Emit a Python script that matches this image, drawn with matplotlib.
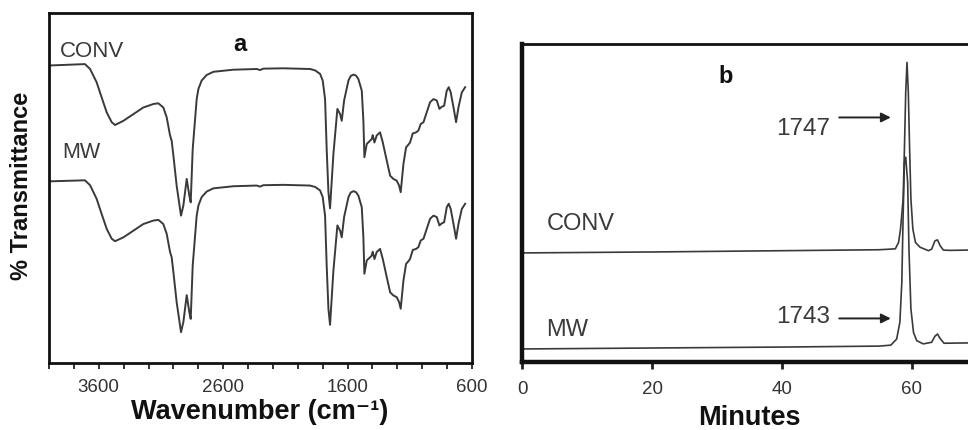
import matplotlib
matplotlib.use("Agg")
import matplotlib.pyplot as plt
from matplotlib.ticker import FixedLocator

plt.rcParams['font.family'] = ['Liberation Sans', 'DejaVu Sans']

# ---------------- Panel a: FTIR spectra ----------------
wavenumber = [3998, 3711, 3670, 3617, 3577, 3536, 3496, 3469, 3402, 3322, 3242, 3161,
              3121, 3081, 3054, 3027, 3014, 3000, 2974, 2939, 2920, 2893, 2872, 2861,
              2845, 2813, 2799, 2773, 2732, 2679, 2518, 2330, 2304, 2277, 2116, 1902,
              1861, 1821, 1800, 1781, 1768, 1754, 1741, 1714, 1682, 1660, 1647, 1628,
              1593, 1575, 1553, 1532, 1513, 1486, 1473, 1465, 1446, 1425, 1406, 1398,
              1384, 1366, 1339, 1317, 1285, 1258, 1232, 1205, 1186, 1173, 1151, 1130,
              1111, 1098, 1076, 1049, 1031, 1012, 990, 964, 937, 910, 883, 862,
              843, 824, 803, 787, 771, 744, 728, 709, 682, 655]
T_conv = [85.0, 85.4, 84.0, 80.2, 75.9, 71.6, 68.8, 68.0, 69.2, 71.1, 73.0, 74.0,
          74.2, 73.0, 70.2, 65.0, 63.5, 59.2, 50.7, 42.1, 45.0, 52.6, 47.8, 45.9,
          61.1, 75.4, 78.3, 80.7, 82.3, 83.2, 83.8, 84.0, 83.7, 84.1, 84.2, 84.0,
          83.6, 82.6, 80.7, 75.4, 61.1, 48.8, 44.2, 59.7, 72.6, 71.1, 69.2, 75.0,
          80.7, 82.0, 82.4, 82.1, 81.1, 77.8, 69.2, 58.8, 62.6, 63.3, 64.0, 65.1,
          63.0, 65.0, 65.9, 63.0, 57.8, 53.5, 52.6, 52.1, 50.7, 48.8, 56.9, 61.6,
          62.4, 63.0, 65.6, 65.9, 66.4, 68.3, 68.8, 71.6, 74.5, 75.4, 75.0, 72.6,
          73.2, 73.5, 77.8, 78.8, 77.3, 72.1, 68.8, 73.0, 77.3, 78.8]
T_mw = [51.9, 52.2, 50.8, 46.9, 42.6, 38.3, 35.5, 34.8, 35.9, 37.8, 39.7, 40.7,
        40.9, 39.7, 36.9, 31.7, 30.2, 25.9, 17.4, 8.8, 11.7, 19.4, 14.5, 12.6,
        27.8, 42.1, 45.0, 47.4, 49.0, 49.9, 50.5, 50.7, 50.4, 50.8, 50.9, 50.7,
        50.3, 49.3, 47.4, 42.1, 27.8, 15.5, 10.9, 26.4, 39.3, 37.8, 35.9, 41.7,
        47.4, 48.7, 49.1, 48.8, 47.8, 44.5, 35.9, 25.5, 29.3, 30.0, 30.7, 31.8,
        29.7, 31.7, 32.6, 29.7, 24.5, 20.2, 19.3, 18.8, 17.4, 15.5, 23.6, 28.3,
        29.1, 29.7, 32.3, 32.6, 33.1, 35.0, 35.5, 38.3, 41.2, 42.1, 41.7, 39.3,
        39.9, 40.2, 44.5, 45.5, 44.0, 38.8, 35.5, 39.7, 44.0, 45.5]
ir_major_ticks = [3600, 2600, 1600, 600]
ir_minor_ticks = list(range(4000, 599, -200))

# ---------------- Panel b: chromatograms ----------------
t_conv = [0.0, 20.0, 40.0, 55.0, 56.8, 57.5, 58.0, 58.3, 58.7, 58.9, 59.1, 59.3,
          59.5, 59.7, 59.9, 60.2, 60.6, 61.3, 62.6, 63.1, 63.6, 64.0, 64.4, 64.9,
          65.9, 68.7]
s_conv = [34.3, 34.6, 35.0, 35.3, 35.5, 35.6, 37.6, 41.8, 51.3, 67.0, 84.8, 94.2,
          84.8, 67.0, 51.3, 41.8, 37.6, 36.1, 35.0, 35.5, 38.1, 38.4, 36.6, 35.2,
          35.1, 35.2]
t_mw = [0.0, 20.0, 40.0, 55.0, 56.8, 57.7, 58.2, 58.5, 58.7, 58.9, 59.1, 59.4,
        59.6, 59.9, 60.3, 60.8, 61.8, 63.1, 63.6, 64.0, 64.4, 65.0, 68.7]
s_mw = [4.1, 4.4, 4.7, 5.0, 5.3, 7.2, 12.5, 25.1, 46.0, 62.8, 64.4, 56.5,
        35.5, 16.7, 9.3, 6.7, 5.7, 6.2, 8.1, 8.8, 7.4, 5.9, 6.0]
gc_ticks = [0, 20, 40, 60]

W, H = 968, 431
fig = plt.figure(figsize=(W / 100, H / 100), dpi=100)

line_col = '#3a3a3a'
txt_col = '#3a3a3a'

# Panel a
axa = fig.add_axes([49 / W, 1 - 364 / H, (472 - 49) / W, (364 - 14) / H])
axa.plot(wavenumber, T_conv, color=line_col, lw=1.4)
axa.plot(wavenumber, T_mw, color=line_col, lw=1.4)
axa.set_xlim(4000, 600)
axa.set_ylim(0, 100)
axa.xaxis.set_major_locator(FixedLocator(ir_major_ticks))
axa.xaxis.set_minor_locator(FixedLocator(ir_minor_ticks))
axa.set_yticks([])
axa.tick_params(axis='x', which='both', direction='out', length=4.5, width=1.3,
                color='#222', labelsize=13.5, labelcolor='#333', pad=6)
for s in axa.spines.values():
    s.set_linewidth(2.0)
    s.set_color('#111')
axa.text(3912, 87.7, 'CONV', fontsize=16, color=txt_col, ha='left', va='baseline')
axa.text(3895, 58.9, 'MW', fontsize=15.5, color=txt_col, ha='left', va='baseline')
axa.text(2464, 89.5, 'a', fontsize=17, fontweight='bold', color='#111',
         ha='center', va='baseline')

fig.text(260 / W, 1 - 419 / H, 'Wavenumber (cm\u207b\u00b9)', fontsize=19.5,
         fontweight='bold', ha='center', va='baseline', color='#111')
fig.text(22 / W, 1 - 186 / H, '% Transmittance', fontsize=17, fontweight='bold',
         rotation=90, ha='center', va='center', color='#111')

# Panel b
axb = fig.add_axes([522.3 / W, 1 - 363 / H, (W - 522.3) / W, (363 - 45) / H])
axb.plot(t_conv, s_conv, color=line_col, lw=1.2)
axb.plot(t_mw, s_mw, color=line_col, lw=1.2)
axb.set_xlim(0, 68.7)
axb.set_ylim(0, 100)
axb.set_xticks(gc_ticks)
axb.set_yticks([])
axb.tick_params(axis='x', direction='out', length=5, width=2.0, color='#222',
                labelsize=13.5, labelcolor='#333', pad=8)
axb.spines['right'].set_visible(False)
axb.spines['left'].set_linewidth(3.2)
axb.spines['bottom'].set_linewidth(3.2)
axb.spines['top'].set_linewidth(2.0)
for s in axb.spines.values():
    s.set_color('#111')

axb.text(3.7, 41.8, 'CONV', fontsize=17, color=txt_col, ha='left', va='baseline')
axb.text(3.7, 8.5, 'MW', fontsize=17, color=txt_col, ha='left', va='baseline')
axb.text(31.4, 88.0, 'b', fontsize=17, fontweight='bold', color='#111',
         ha='center', va='baseline')
axb.text(47.5, 71.7, '1747', fontsize=17.5, color=txt_col, ha='right', va='baseline')
axb.text(47.5, 12.6, '1743', fontsize=17.5, color=txt_col, ha='right', va='baseline')
arrow_kw = dict(arrowstyle='-|>', lw=1.4, color='#222', mutation_scale=14,
                shrinkA=0, shrinkB=0)
axb.annotate('', xy=(56.8, 76.9), xytext=(48.85, 76.9), arrowprops=arrow_kw)
axb.annotate('', xy=(56.8, 13.7), xytext=(48.85, 13.7), arrowprops=arrow_kw)

fig.text(749 / W, 1 - 425 / H, 'Minutes', fontsize=19.5, fontweight='bold',
         ha='center', va='baseline', color='#111')

fig.savefig('out.png', dpi=100)
